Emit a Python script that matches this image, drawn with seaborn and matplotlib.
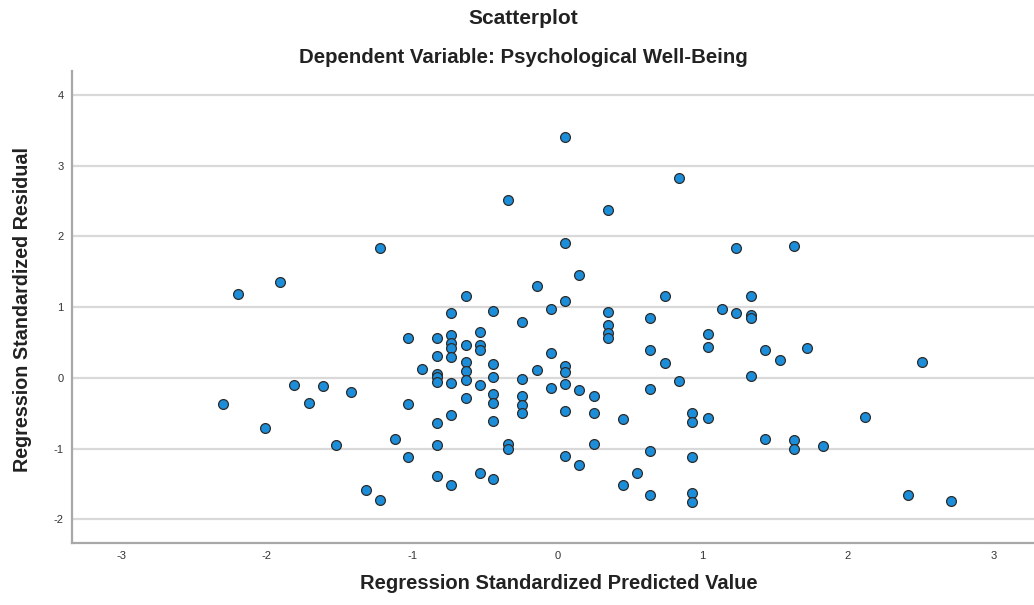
import matplotlib
matplotlib.use("Agg")
import matplotlib.pyplot as plt
import seaborn as sns
import pandas as pd

# Regression standardized predicted values (x) and residuals (y)
pred = [
    -2.30, -2.20, -2.01, -1.91, -1.81, -1.71, -1.61, -1.52, -1.42, -1.32,
    -1.22, -1.22, -1.12, -1.03, -1.03, -1.03, -0.93,
    -0.83, -0.83, -0.83, -0.83, -0.83, -0.83, -0.83, -0.83,
    -0.73, -0.73, -0.73, -0.73, -0.73, -0.73, -0.73, -0.73,
    -0.63, -0.63, -0.63, -0.63, -0.63, -0.63,
    -0.53, -0.53, -0.53, -0.53, -0.53,
    -0.44, -0.44, -0.44, -0.44, -0.44, -0.44, -0.44,
    -0.34, -0.34, -0.34,
    -0.24, -0.24, -0.24, -0.24, -0.24,
    -0.14, -0.14,
    -0.045, -0.045, -0.045,
    0.056, 0.056, 0.056, 0.056, 0.056, 0.056, 0.056, 0.056,
    0.15, 0.15, 0.15,
    0.25, 0.25, 0.25,
    0.35, 0.35, 0.35, 0.35, 0.35,
    0.45, 0.45,
    0.545,
    0.64, 0.64, 0.64, 0.64, 0.64,
    0.74, 0.74,
    0.84, 0.84,
    0.93, 0.93, 0.93, 0.93, 0.93,
    1.04, 1.04, 1.04,
    1.13,
    1.23, 1.23,
    1.33, 1.33, 1.33, 1.33,
    1.43, 1.43,
    1.53,
    1.63, 1.63, 1.63,
    1.72, 1.83, 2.12, 2.41, 2.51, 2.71,
]
resid = [
    -0.37, 1.19, -0.71, 1.35, -0.10, -0.36, -0.12, -0.95, -0.20, -1.59,
    1.84, -1.73, -0.86, 0.57, -0.37, -1.12, 0.12,
    0.56, 0.31, 0.06, 0.01, -0.06, -0.64, -0.95, -1.39,
    0.92, 0.60, 0.49, 0.42, 0.30, -0.08, -0.52, -1.52,
    1.16, 0.47, 0.23, 0.09, -0.03, -0.28,
    0.65, 0.46, 0.39, -0.10, -1.35,
    0.95, 0.20, 0.01, -0.23, -0.36, -0.61, -1.43,
    2.51, -0.94, -1.00,
    0.79, -0.01, -0.25, -0.39, -0.50,
    1.30, 0.11,
    0.98, 0.35, -0.15,
    3.40, 1.91, 1.09, 0.17, 0.085, -0.09, -0.47, -1.10,
    1.46, -0.17, -1.23,
    -0.25, -0.49, -0.93,
    2.37, 0.93, 0.745, 0.63, 0.57,
    -0.58, -1.51,
    -1.34,
    0.84, 0.40, -0.16, -1.04, -1.66,
    1.15, 0.21,
    2.82, -0.05,
    -0.50, -0.63, -1.12, -1.63, -1.75,
    0.62, 0.43, -0.57,
    0.98,
    1.84, 0.91,
    1.15, 0.89, 0.84, 0.02,
    0.39, -0.86,
    0.25,
    1.87, -0.88, -1.01,
    0.42, -0.97, -0.56, -1.65, 0.22, -1.74,
]

x_ticks = [-3, -2, -1, 0, 1, 2, 3]
y_ticks = [-2, -1, 0, 1, 2, 3, 4]

title = "Scatterplot"
subtitle = "Dependent Variable: Psychological Well-Being"
x_label = "Regression Standardized Predicted Value"
y_label = "Regression Standardized Residual"

df = pd.DataFrame({"pred": pred, "resid": resid})

sns.set_theme(style="white")
plt.rcParams["font.family"] = ["Liberation Sans Narrow", "Liberation Sans", "DejaVu Sans"]
plt.rcParams["axes.unicode_minus"] = False

fig = plt.figure(figsize=(10.34, 6.05), dpi=100)
ax = fig.add_axes([0.0696, 0.103, 0.9304, 0.780])

ax.set_axisbelow(True)
for yv in y_ticks:
    ax.axhline(yv, color="#d9d9d9", lw=1.6, zorder=0)

sns.scatterplot(data=df, x="pred", y="resid", ax=ax, s=50,
                color="#1c8ed9", edgecolor="#2b2b2b", linewidth=0.9, zorder=3)

ax.set_xlim(-3.34, 3.28)
ax.set_ylim(-2.33, 4.34)
ax.set_xticks(x_ticks)
ax.set_yticks(y_ticks)
ax.set_xticklabels([str(t) for t in x_ticks])
ax.set_yticklabels([str(t) for t in y_ticks])
ax.tick_params(axis="both", labelsize=8, colors="#333333", length=0, pad=6)

for side in ["top", "right"]:
    ax.spines[side].set_visible(False)
for side in ["left", "bottom"]:
    ax.spines[side].set_color("#a8a8a8")
    ax.spines[side].set_linewidth(1.6)

ax.set_xlabel("")
ax.set_ylabel("")
fig.text(0.540, 0.020, x_label, ha="center", va="bottom", fontsize=14.5,
         fontweight="bold", color="#222222")
fig.text(0.022, 0.489, y_label, ha="center", va="center", rotation=90,
         fontsize=14.2, fontweight="bold", color="#222222")
fig.text(0.506, 0.970, title, ha="center", va="center", fontsize=15,
         fontweight="bold", color="#222222")
fig.text(0.506, 0.905, subtitle, ha="center", va="center", fontsize=14.7,
         fontweight="bold", color="#222222")

fig.savefig("out.png", dpi=100)
